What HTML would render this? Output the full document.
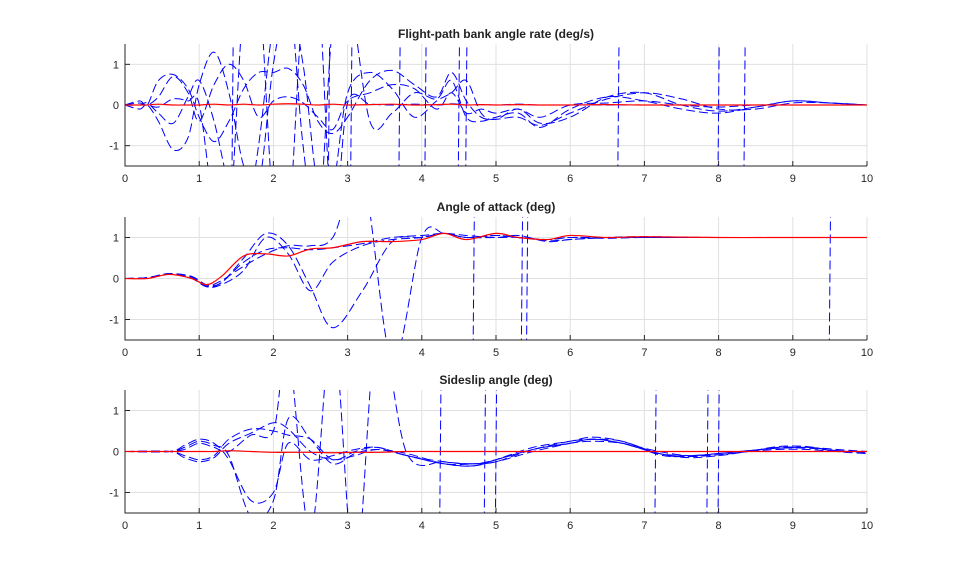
<!DOCTYPE html>
<html><head><meta charset="utf-8"><style>
body{margin:0;background:#fff;}
svg{font-family:"Liberation Sans",Arial,sans-serif;}
</style></head><body>
<svg id="chart" width="959" height="577"></svg>
<script>
// ---------- data ----------
const xTicks=[0,1,2,3,4,5,6,7,8,9,10];
const yTicks=[-1,0,1];
const titles=["Flight-path bank angle rate (deg/s)","Angle of attack (deg)","Sideslip angle (deg)"];

// Panel 1
const p1Times=[0,0.2,0.3,0.45,0.65,0.85,1.0,1.2,1.4,1.6,1.8,2.0,2.2,2.4,2.6,2.8,3.0,3.3,3.6,3.9,4.2,4.4,4.6,4.8,5.0,5.3,5.6,6.0,6.5,7.0,7.5,8.0,8.5,9.0,9.5,10];
const p1Red=[0,0,0,0.02,0,0,0,0.02,0,0.02,0,0.02,0.03,0.02,0,0.02,0,0.01,0.02,0,0.01,0.02,0,0.01,0,0.01,0,0,0.01,0,0,0,0,0,0,0];
const p1S1=[0,0.1,0,0.6,0.75,0.4,-0.3,-0.9,-0.4,0.4,0.8,0.8,0.9,0.5,-0.4,-0.7,-0.3,0.6,0.85,0.5,0.2,0.8,0.1,-0.3,-0.35,-0.3,-0.5,-0.2,0.15,0.3,0.15,-0.1,-0.1,0.05,0.05,0];
const p1S2=[0,-0.1,0,-0.4,-1.1,-0.8,0.5,1.3,0.3,-1.5,-2.0,1.0,2.5,1.0,-2.0,-2.0,0.3,0.8,0.4,-0.3,0.1,0.3,0.6,-0.2,-0.35,-0.1,-0.45,-0.3,0.2,0.3,0,-0.15,-0.05,0.1,0.05,0];
const p1S3=[0,0,0.05,-0.2,-0.45,0.2,0.6,-0.4,-2.0,-3.0,-1.0,2.0,3.0,-1.0,-3.0,2.0,3.0,-0.4,-0.2,0.3,0.15,0.6,-0.3,-0.4,-0.3,-0.2,-0.55,-0.1,0.2,0.1,-0.1,-0.2,-0.05,0.1,0.05,0];
const p1S4=[0,0.05,0,0.2,0.7,0.3,-0.4,0.5,1.0,0.6,-0.3,0.1,0.2,0.05,-0.3,-0.6,0.1,0.3,0.5,0.4,-0.1,0.3,-0.2,-0.1,-0.2,-0.1,-0.3,0,0.05,0.1,0,-0.05,0,0,0,0];
const p1S5=[0,0,0,-0.05,0.15,0.1,0.02,-2.5,-3.0,2.5,3.0,-2.5,-3.0,2.5,3,-3,0.05,0.02,0,0.02,0,0.03,0,0.01,0,0.02,0,0,0,0,0,0,0,0,0,0];
const p1Spikes=[1.45,2.75,3.05,3.7,4.05,4.5,4.6,6.65,8.0,8.35];

// Panel 2
const p2Times=[0,0.3,0.6,0.9,1.1,1.3,1.6,1.9,2.2,2.5,2.8,3.2,3.6,4.0,4.3,4.6,5.0,5.3,5.7,6.0,6.5,7.0,8.0,9.0,10];
const p2Red=[0,0,0.1,0,-0.15,0.05,0.55,0.6,0.55,0.72,0.75,0.9,0.9,0.95,1.1,0.95,1.1,1.0,0.95,1.05,1.0,1.02,1.0,1.0,1.0];
const p2S1=[0,0.02,0.12,0.05,-0.15,-0.1,0.5,1.1,0.8,-0.2,-1.2,-0.3,0.9,1.0,1.1,1.0,1.05,1.0,0.95,1.0,1.0,1.0,1.0,1.0,1.0];
const p2S2=[0,0.02,0.1,0.05,-0.2,-0.15,0.2,1.0,0.6,-0.3,0.4,0.8,0.95,1.0,1.1,1.0,1.05,1.0,0.95,1.0,0.98,1.0,1.0,1.0,1.0];
const p2S3=[0,0.02,0.12,0.0,-0.2,-0.1,0.4,0.7,0.75,0.7,0.75,0.85,1.0,1.05,1.1,1.05,1.0,1.05,0.9,0.95,1.0,1.02,1.0,1.0,1.0];
const p2S4=[0,0.02,0.12,0.03,-0.18,-0.05,0.3,0.6,0.8,0.8,1.0,2.5,-2.0,1.0,1.1,1.0,1.0,1.0,0.92,0.95,1.0,1.0,1.0,1.0,1.0];
const p2Spikes=[4.7,5.35,5.42,9.5];

// Panel 3
const p3Times=[0,0.6,0.8,1.0,1.2,1.4,1.7,2.0,2.2,2.5,2.8,3.1,3.4,3.8,4.3,4.7,5.0,5.5,6.0,6.3,6.7,7.2,7.6,8.0,8.4,8.8,9.2,9.6,10];
const p3Red=[0,0,0,0,0,0.02,0,-0.02,-0.02,-0.02,-0.03,-0.02,-0.02,0,0,0,0,0,0,0,0,0,0,0,0,0,0,0,0];
const p3S1=[0,0,0.15,0.3,0.2,-0.2,-1.2,-1.0,0.2,-0.2,-0.1,0.05,0.1,-0.1,-0.3,-0.35,-0.2,0.1,0.25,0.35,0.25,-0.05,-0.15,-0.1,0,0.1,0.1,0.05,0];
const p3S2=[0,0,-0.15,-0.25,-0.15,0.2,0.45,0.7,0.55,0,-0.2,-0.1,0.05,-0.1,-0.3,-0.3,-0.25,0.05,0.2,0.3,0.2,-0.05,-0.12,-0.08,0,0.12,0.12,0,-0.05];
const p3S3=[0,0,0.1,0.25,0.15,-0.1,-1.6,-1.2,0.8,0.3,-0.3,-0.05,0.05,-0.05,-0.3,-0.35,-0.2,0.05,0.25,0.3,0.25,-0.08,-0.12,-0.05,0.02,0.08,0.1,0.02,-0.03];
const p3S4=[0,0,-0.1,-0.2,-0.1,0.3,0.55,0.5,0.4,0.3,-0.2,0,0.1,-0.1,-0.25,-0.3,-0.25,0.0,0.2,0.3,0.2,-0.05,-0.1,-0.05,0.02,0.08,0.08,0.02,0];
const p3S5=[0,0,0.05,0.2,0.1,0.0,0.4,0.5,2.5,-2.0,3.0,-3.0,3.0,-0.05,-0.25,-0.3,-0.2,0.05,0.2,0.25,0.2,0,-0.1,-0.05,0,0.05,0.05,0,0];
const p3Spikes=[4.25,4.85,5.0,7.15,7.85,8.0];

// ---------- layout ----------
const X0=125,X1=867;
const panels=[
 {top:44,bot:166,times:p1Times,red:p1Red,blues:[p1S1,p1S2,p1S3,p1S4,p1S5],spikes:p1Spikes},
 {top:217,bot:340,times:p2Times,red:p2Red,blues:[p2S1,p2S2,p2S3,p2S4],spikes:p2Spikes},
 {top:390,bot:513,times:p3Times,red:p3Red,blues:[p3S1,p3S2,p3S3,p3S4,p3S5],spikes:p3Spikes}
];
const NS="http://www.w3.org/2000/svg";
const svg=document.getElementById('chart');
function mk(tag,attrs,parent){const e=document.createElementNS(NS,tag);for(const k in attrs)e.setAttribute(k,attrs[k]);(parent||svg).appendChild(e);return e;}
function smoothPath(pts){
 let d=`M${pts[0][0]},${pts[0][1]}`;
 for(let i=0;i<pts.length-1;i++){
  const p0=pts[Math.max(0,i-1)],p1=pts[i],p2=pts[i+1],p3=pts[Math.min(pts.length-1,i+2)];
  const c1=[p1[0]+(p2[0]-p0[0])/6,p1[1]+(p2[1]-p0[1])/6];
  const c2=[p2[0]-(p3[0]-p1[0])/6,p2[1]-(p3[1]-p1[1])/6];
  d+=` C${c1[0]},${c1[1]} ${c2[0]},${c2[1]} ${p2[0]},${p2[1]}`;
 }
 return d;
}
panels.forEach((p,pi)=>{
 const xs=t=>X0+(X1-X0)*t/10;
 const ys=v=>(p.top+p.bot)/2-v*(p.bot-p.top)/3;
 const g=mk('g',{});
 
 
 mk('rect',{x:X0,y:p.top,width:X1-X0,height:p.bot-p.top,fill:'#fff'},g);
 xTicks.forEach(t=>{
  const l=mk('line',{x1:xs(t),x2:xs(t),y1:p.top,y2:p.bot,stroke:'#e0e0e0','stroke-width':1},g);
  
  
  const tx=mk('text',{x:xs(t),y:p.bot+16,'font-size':11,'text-anchor':'middle',fill:'#262626'},g);
  tx.textContent=t;
  
  
  mk('line',{x1:xs(t),x2:xs(t),y1:p.bot,y2:p.bot-5,stroke:'#262626'},g);
 });
 yTicks.forEach(v=>{
  const l=mk('line',{x1:X0,x2:X1,y1:ys(v),y2:ys(v),stroke:'#e0e0e0'},g);
  
  
  const tx=mk('text',{x:X0-6,y:ys(v)+4,'font-size':11,'text-anchor':'end',fill:'#262626'},g);
  tx.textContent=v;
  
  
  mk('line',{x1:X0,x2:X0+5,y1:ys(v),y2:ys(v),stroke:'#262626'},g);
 });
 const cp=mk('clipPath',{id:'clip'+pi},g);
 mk('rect',{x:X0,y:p.top,width:X1-X0,height:p.bot-p.top},cp);
 const dg=mk('g',{'clip-path':`url(#clip${pi})`},g);
 p.blues.forEach((s,si)=>{
  const pts=p.times.map((t,i)=>[xs(t),ys(s[i])]);
  const path=mk('path',{d:smoothPath(pts),fill:'none',stroke:'#0000ff','stroke-width':1,'stroke-dasharray':'9 4'},dg);
  
  
 });
 p.spikes.forEach(t=>{
  const path=mk('path',{d:`M${xs(t-0.01)},${ys(-2)} L${xs(t+0.01)},${ys(2)}`,fill:'none',stroke:'#0000ff','stroke-width':1,'stroke-dasharray':'9 4'},dg);
  
  
 });
 const rp=mk('path',{d:smoothPath(p.times.map((t,i)=>[xs(t),ys(p.red[i])])),fill:'none',stroke:'#ff0000','stroke-width':1.2},dg);
 
 
 const ax=mk('path',{d:`M${X0},${p.top} L${X0},${p.bot} L${X1},${p.bot}`,fill:'none',stroke:'#262626','stroke-width':1},g);
 
 
 const ti=mk('text',{x:(X0+X1)/2,y:p.top-6,'font-size':12,'font-weight':'bold','text-anchor':'middle',fill:'#222'},g);
 ti.textContent=titles[pi];
 
 
});
</script>
</body></html>
